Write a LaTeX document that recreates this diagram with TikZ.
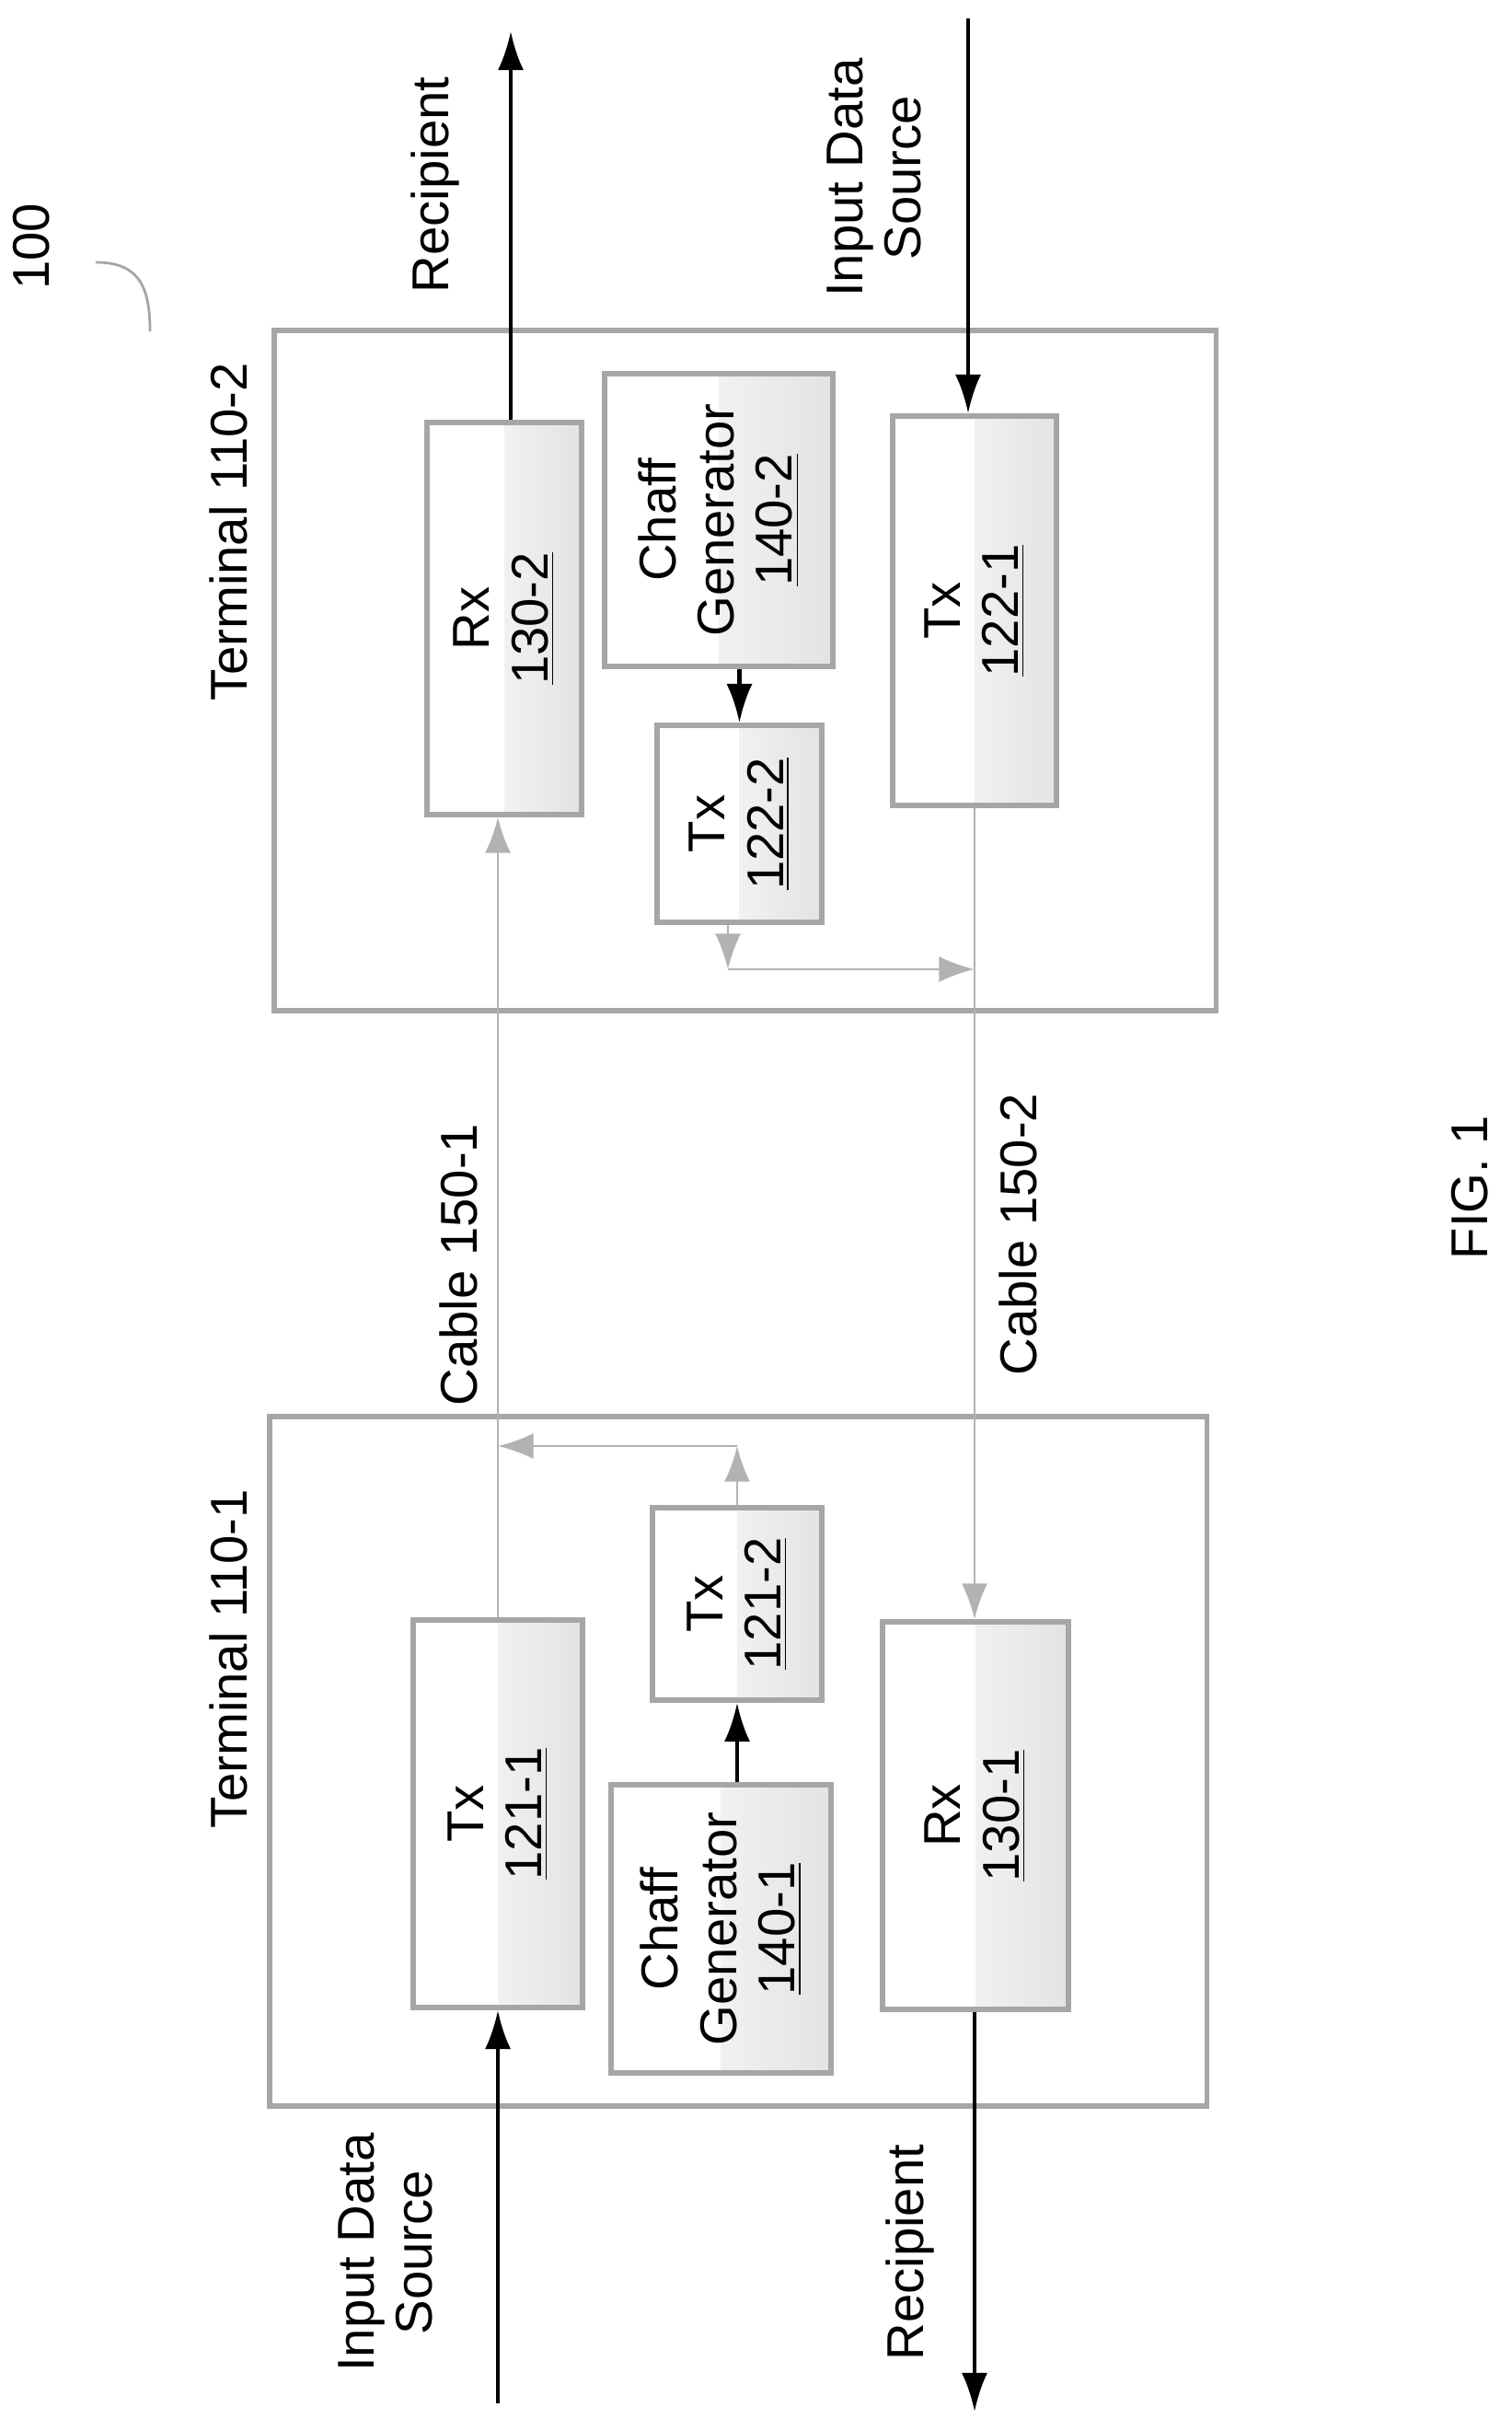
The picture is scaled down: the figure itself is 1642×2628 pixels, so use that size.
\documentclass[tikz,border=0pt]{standalone}
\usepackage{fontspec}
\setmainfont{Liberation Sans}
\usetikzlibrary{arrows.meta}
\tikzset{
  box/.style={draw=gray!70,line width=1.6pt,rectangle,inner sep=0pt,
    path picture={\shade[left color=white,right color=gray!22]
      (path picture bounding box.south) rectangle (path picture bounding box.north east);}},
  term/.style={draw=gray!70,line width=1.6pt,rectangle,inner sep=0pt},
  txt/.style={rotate=90,align=center,font=\fontsize{16}{18}\selectfont},
  sig/.style={-{Latex[length=12pt,width=8pt]},line width=1.2pt},
  cab/.style={-{Latex[length=11pt,width=8pt,fill=gray!60]},draw=gray!60,line width=0.8pt}
}
\begin{document}
\begin{tikzpicture}[x=0.01cm,y=-0.01cm]
    \useasboundingbox (0,0) rectangle (1642,2628);
    %%%%%%%%% Terminals %%%%%%%%%
    \node[term,minimum width=10.23cm,minimum height=7.39cm] (t2) at (809.5,728.5) {};
    \node[term,minimum width=10.18cm,minimum height=7.49cm] (t1) at (802,1913.5) {};

    %%%%%%%%% Boxes %%%%%%%%%
    \node[box,minimum width=1.68cm,minimum height=4.26cm] (rx2) at (548,672) {};
    \node[box,minimum width=2.48cm,minimum height=3.18cm] (cg2) at (781,565) {};
    \node[box,minimum width=1.79cm,minimum height=2.14cm] (tx22) at (803.5,895) {};
    \node[box,minimum width=1.78cm,minimum height=4.23cm] (tx21) at (1059,663.5) {};
    \node[box,minimum width=1.84cm,minimum height=4.21cm] (tx11) at (541,1970.5) {};
    \node[box,minimum width=1.84cm,minimum height=2.09cm] (tx12) at (801,1742.5) {};
    \node[box,minimum width=2.39cm,minimum height=3.13cm] (cg1) at (783.5,2095.5) {};
    \node[box,minimum width=2.02cm,minimum height=4.21cm] (rx1) at (1060,1972.5) {};

    \node[txt] at (rx2) {Rx\\\underline{130-2}};
    \node[txt] at (cg2) {Chaff\\Generator\\\underline{140-2}};
    \node[txt] at (tx22) {Tx\\\underline{122-2}};
    \node[txt] at (tx21) {Tx\\\underline{122-1}};
    \node[txt] at (tx11) {Tx\\\underline{121-1}};
    \node[txt] at (tx12) {Tx\\\underline{121-2}};
    \node[txt] at (cg1) {Chaff\\Generator\\\underline{140-1}};
    \node[txt] at (rx1) {Rx\\\underline{130-1}};

    %%%%%%%%% Labels %%%%%%%%%
    \node[txt] (n100) at (34,268) {100};
    \node[txt] (rcp2) at (473,201) {Recipient};
    \node[txt] (src2) at (950,193) {Input Data\\Source};
    \node[txt] (lt2) at (248,578) {Terminal 110-2};
    \node[txt] (lt1) at (248,1802) {Terminal 110-1};
    \node[txt] (lc1) at (498,1374) {Cable 150-1};
    \node[txt] (lc2) at (1106,1341) {Cable 150-2};
    \node[txt] (fig) at (1597,1290) {FIG. 1};
    \node[txt] (src1) at (419,2447) {Input Data\\Source};
    \node[txt] (rcp1) at (989,2447) {Recipient};
    \draw[gray!70,line width=0.8pt] (104,285) .. controls (150,285) and (163,310) .. (163,360);

    %%%%%%%%% Ends %%%%%%%%%
    \coordinate (o2) at (555,34);
    \coordinate (i2) at (1052,20);
    \coordinate (i1) at (541,2611);
    \coordinate (o1) at (1059,2620);
    \coordinate (m2) at (791,1053);
    \coordinate (m1) at (801,1571);

    %%%%%%%%% Arrows %%%%%%%%%
    \draw[sig] (rx2.north -| o2) -- (o2);
    \draw[sig] (i2) -- (i2 |- tx21.north);
    \draw[sig] (i1) -- (tx11.south);
    \draw[sig] (rx1.south -| o1) -- (o1);
    \draw[sig] (cg2.south -| tx22.north) -- (tx22.north);
    \draw[sig] (cg1.north -| tx12.south) -- (tx12.south);
    \draw[cab] (tx11.north) -- (tx11.north |- rx2.south);
    \draw[cab] (tx21.south) -- (tx21.south |- rx1.north);
    \draw[cab] (tx22.south -| m2) -- (m2);
    \draw[cab] (m2) -- (m2 -| tx21.south);
    \draw[cab] (tx12.north) -- (m1);
    \draw[cab] (m1) -- (m1 -| tx11.north);
\end{tikzpicture}
\end{document}
